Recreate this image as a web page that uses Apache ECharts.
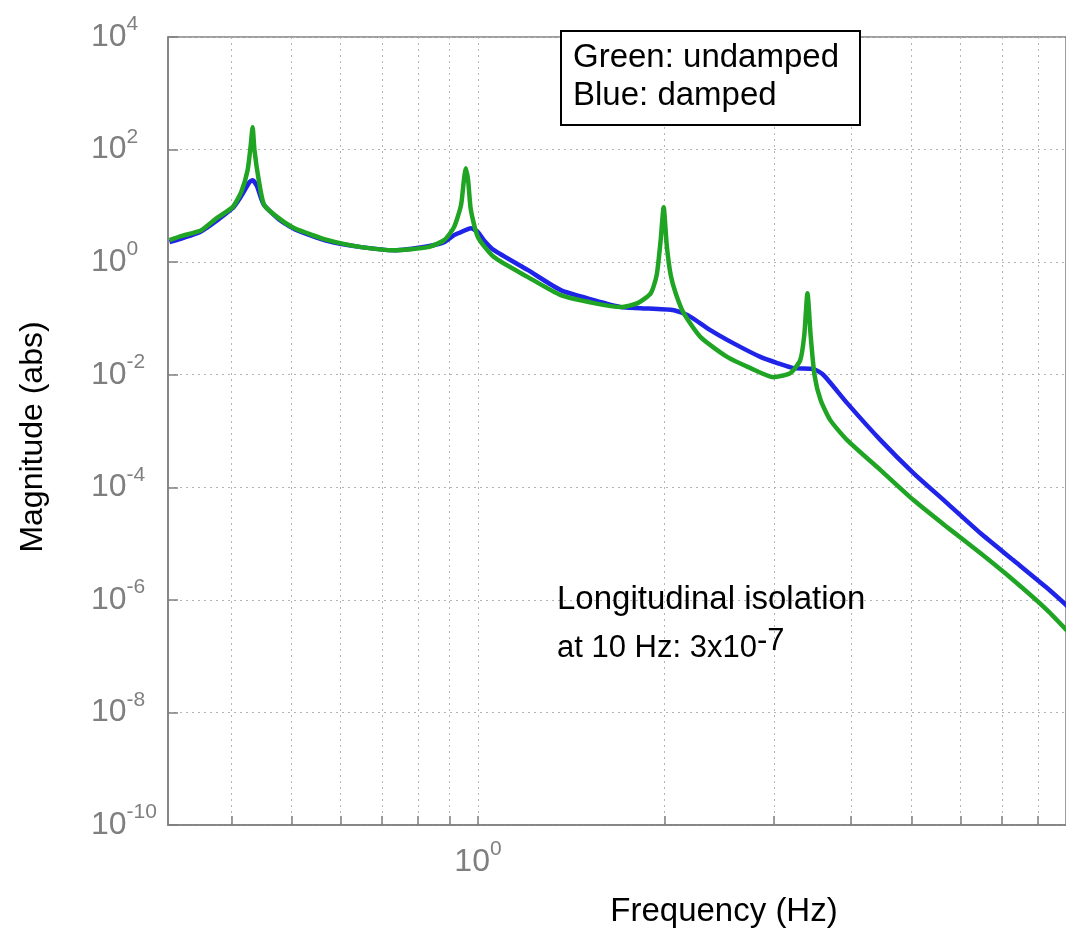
<!DOCTYPE html>
<html><head><meta charset="utf-8">
<script src="https://cdn.jsdelivr.net/npm/echarts@6/dist/echarts.min.js"></script>
<style>html,body{margin:0;padding:0;background:#fff}#c{width:1066px;height:931px}</style>
</head><body><div id="c"></div>
<script>
// Undamped (green) transfer function magnitude
const freqGreen = [0.318,0.332,0.358,0.379,0.402,0.415,0.425,0.430,0.433,0.436,0.443,0.452,0.477,0.506,0.573,0.648,0.732,0.831,0.882,0.915,0.939,0.949,0.956,0.964,0.974,1.0,1.061,1.204,1.360,1.538,1.700,1.810,1.900,1.942,1.971,1.993,2.016,2.046,2.084,2.147,2.286,2.527,2.752,2.997,3.19,3.31,3.36,3.40,3.44,3.49,3.57,3.70,3.94,4.46,5.04,5.71,6.46,7.30,8.28,9.0];
const magGreen = [2.46,2.90,3.70,6.05,9.48,17.5,43,120,250,97,28.6,10.3,6.05,4.0,2.46,1.85,1.63,1.85,2.46,4.19,10.3,28.6,46.7,28.6,8.39,2.78,1.23,0.542,0.259,0.187,0.159,0.187,0.281,0.588,2.46,9.48,2.00,0.588,0.281,0.124,0.0466,0.0205,0.0131,0.00906,0.01068,0.01817,0.0505,0.281,0.0505,0.00984,0.00354,0.00156,0.000689,0.000202,5.93e-5,1.96e-5,6.78e-6,2.25e-6,6.59e-7,2.55e-7];
// Damped (blue) transfer function magnitude
const freqBlue = [0.318,0.358,0.402,0.415,0.428,0.433,0.440,0.451,0.477,0.506,0.573,0.648,0.732,0.831,0.882,0.915,0.939,0.974,1.0,1.022,1.061,1.204,1.360,1.538,1.700,1.83,2.07,2.18,2.37,2.58,2.86,3.04,3.23,3.48,3.61,3.94,4.46,5.04,5.71,6.46,7.30,8.28,9.0];
const magBlue = [2.27,3.55,9.1,14.9,26.4,28.6,22.4,10.7,5.8,3.86,2.36,1.85,1.63,1.92,2.27,3.02,3.41,4.02,3.41,2.46,1.63,0.721,0.318,0.211,0.159,0.152,0.140,0.1145,0.062,0.0364,0.0205,0.0161,0.0131,0.01257,0.00984,0.00313,0.000689,0.000179,5.24e-5,1.54e-5,5.09e-6,1.62e-6,7.15e-7];
// Axis ticks
const xTickValues = [0.4,0.5,0.6,0.7,0.8,0.9,1,2,3,4,5,6,7,8,9];
const xLabelValues = [1];
const yTickValues = [1e-10,1e-8,1e-6,1e-4,1e-2,1,1e2,1e4];

const FONT = '"Liberation Sans", Arial, Helvetica, sans-serif';
const GRAY = '#7f7f7f';
const zip = (a, b) => a.map((v, i) => [v, b[i]]);
const powLabel = v => '{b|10}{s|' + Math.round(Math.log10(v)) + '}';
const tickRich = {
  b: {fontSize: 32, fontFamily: FONT, color: GRAY, lineHeight: 46},
  s: {fontSize: 21, fontFamily: FONT, color: GRAY, verticalAlign: 'top', lineHeight: 16}
};

const chart = echarts.init(document.getElementById('c'), null, {renderer: 'canvas'});
chart.setOption({
  animation: false,
  backgroundColor: '#fff',
  grid: {left: 168, right: 0, top: 37, bottom: 106, show: true, borderColor: GRAY, borderWidth: 1.5,
         backgroundColor: 'transparent', containLabel: false, outerBoundsMode: 'none'},
  xAxis: {
    type: 'log', logBase: 10, min: Math.pow(10, -0.5), max: Math.pow(10, 0.9485),
    name: 'Frequency (Hz)', nameLocation: 'middle', nameGap: 70,
    nameTextStyle: {fontSize: 33, fontFamily: FONT, color: '#000', padding: [0, 0, 0, 214]},
    axisLine: {lineStyle: {color: GRAY, width: 1.5}},
    axisTick: {show: true, inside: true, length: 9, customValues: xTickValues, lineStyle: {color: GRAY, width: 1.5}},
    axisLabel: {customValues: xLabelValues, margin: 14, formatter: powLabel, rich: tickRich},
    splitLine: {show: true, lineStyle: {type: [2, 4], color: '#b4b4b4', width: 1}},
    minorTick: {show: false}
  },
  yAxis: {
    type: 'log', logBase: 10, min: 1e-10, max: 1e4,
    name: 'Magnitude (abs)', nameLocation: 'middle', nameGap: 119,
    nameTextStyle: {fontSize: 32, fontFamily: FONT, color: '#000', padding: [0, 12, 0, 0]},
    axisLine: {lineStyle: {color: GRAY, width: 1.5}},
    axisTick: {show: true, inside: true, length: 10, customValues: yTickValues, lineStyle: {color: GRAY, width: 1.5}},
    axisLabel: {customValues: yTickValues, align: 'left', margin: 77, formatter: powLabel, rich: tickRich},
    splitLine: {show: true, lineStyle: {type: [2, 4], color: '#b4b4b4', width: 1}}
  },
  series: [
    {name: 'damped', type: 'line', data: zip(freqBlue, magBlue), showSymbol: false,
     smooth: 0.2, lineStyle: {color: '#1f24e8', width: 4.5}, z: 3},
    {name: 'undamped', type: 'line', data: zip(freqGreen, magGreen), showSymbol: false,
     smooth: 0.2, lineStyle: {color: '#1fa523', width: 4.5}, z: 4}
  ],
  graphic: [
    {type: 'rect', z: 10, shape: {x: 561, y: 31, width: 299, height: 94},
     style: {fill: '#fff', stroke: '#000', lineWidth: 2}},
    {type: 'text', z: 11, style: {text: 'Green: undamped', x: 573, y: 58, fontSize: 33, fontFamily: FONT, fill: '#000', verticalAlign: 'middle'}},
    {type: 'text', z: 11, style: {text: 'Blue: damped', x: 573, y: 96, fontSize: 33, fontFamily: FONT, fill: '#000', verticalAlign: 'middle'}},
    {type: 'text', z: 11, style: {text: 'Longitudinal isolation', x: 557, y: 600, fontSize: 33, fontFamily: FONT, fill: '#000', verticalAlign: 'middle'}},
    {type: 'text', z: 11, style: {text: '{a|at 10 Hz: 3x10}{s|-7}', x: 557, y: 648, verticalAlign: 'middle',
      rich: {a: {fontSize: 31, fontFamily: FONT, fill: '#000', color: '#000', lineHeight: 44},
             s: {fontSize: 31, fontFamily: FONT, fill: '#000', color: '#000', verticalAlign: 'top', lineHeight: 30}}}}
  ]
});
</script>
</body></html>
